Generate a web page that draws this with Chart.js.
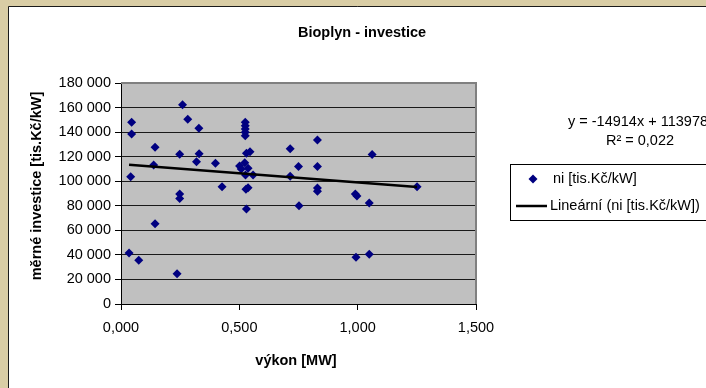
<!DOCTYPE html>
<html>
<head>
<meta charset="utf-8">
<title>Bioplyn - investice</title>
<script src="https://cdn.jsdelivr.net/npm/chart.js@4/dist/chart.umd.min.js"></script>
<style>
    html, body { margin: 0; padding: 0; background: #d9cda5; }
    canvas { display: block; }
</style>
</head>
<body>
<canvas id="bioplyn-chart" width="706" height="388"></canvas>
<script>
// Data: power [MW] and specific investment [tis.Kč/kW]
const powerMW = [
    0.034, 0.041, 0.045, 0.045, 0.075, 0.138, 0.144, 0.144, 0.237, 0.248,
    0.248, 0.248, 0.260, 0.282, 0.319, 0.329, 0.330, 0.399, 0.427, 0.501,
    0.508, 0.523, 0.537, 0.526, 0.558, 0.525, 0.525, 0.525, 0.525, 0.525,
    0.530, 0.545, 0.528, 0.537, 0.530, 0.715, 0.715, 0.750, 0.752, 0.830,
    0.830, 0.830, 0.830, 0.990, 0.997, 0.993, 1.049, 1.049, 1.061, 1.251
];
const investment = [
    41500, 103700, 138500, 148000, 35600, 113200, 127600, 65400, 24700, 89500,
    86000, 121900, 162300, 150400, 115900, 143100, 122400, 114600, 95400, 112400,
    110000, 115000, 110500, 105100, 105100, 148000, 145200, 142500, 139800, 137100,
    122700, 124000, 93400, 94700, 77400, 126500, 104000, 112000, 80000, 133600,
    112000, 94500, 91800, 89500, 88000, 38000, 82200, 40600, 121700, 95400
];

// Linear trend end points (y = -14914x + 113978)
const trendX = [0.034, 1.251];
const trendY = [113471, 95321];

const chartTitle = 'Bioplyn - investice';
const xTitle = 'výkon [MW]';
const yTitle = 'měrné investice [tis.Kč/kW]';
const seriesLabel = 'ni [tis.Kč/kW]';
const trendLabel = 'Lineární (ni [tis.Kč/kW])';
const trendEquation = 'y = -14914x + 113978';
const trendR2 = 'R² = 0,022';

const FONT = '"Liberation Sans", Arial, sans-serif';
const NAVY = '#000080';

function formatThousands(v) {
    return String(v).replace(/\B(?=(\d{3})+(?!\d))/g, ' ');
}

// Frame, plot background, titles and the legend box
const decorPlugin = {
    id: 'decor',
    beforeDraw(chart) {
        const ctx = chart.ctx;
        const a = chart.chartArea;
        ctx.save();
        ctx.fillStyle = '#d9cda5';
        ctx.fillRect(0, 0, chart.width, chart.height);
        ctx.fillStyle = '#ffffff';
        ctx.fillRect(9, 7, chart.width, chart.height);
        ctx.strokeStyle = '#1a1a1a';
        ctx.lineWidth = 1;
        ctx.beginPath();
        ctx.moveTo(8.5, chart.height);
        ctx.lineTo(8.5, 6.5);
        ctx.lineTo(chart.width, 6.5);
        ctx.stroke();
        ctx.fillStyle = '#c0c0c0';
        ctx.fillRect(a.left, a.top, a.right - a.left, a.bottom - a.top);
        ctx.restore();
    },
    afterDraw(chart) {
        const ctx = chart.ctx;
        const a = chart.chartArea;
        ctx.save();
        // plot border top / right
        ctx.strokeStyle = '#808080';
        ctx.lineWidth = 2;
        ctx.beginPath();
        ctx.moveTo(a.left, a.top);
        ctx.lineTo(a.right, a.top);
        ctx.lineTo(a.right, a.bottom);
        ctx.stroke();

        ctx.fillStyle = '#000';
        ctx.textBaseline = 'middle';
        ctx.textAlign = 'center';
        ctx.font = 'bold 14.5px ' + FONT;
        ctx.fillText(chartTitle, 362, 33);
        ctx.fillText(xTitle, 296, 361);
        ctx.save();
        ctx.translate(37, 186);
        ctx.rotate(-Math.PI / 2);
        ctx.fillText(yTitle, 0, 0);
        ctx.restore();

        // trend equation
        ctx.font = '14.5px ' + FONT;
        ctx.textAlign = 'left';
        ctx.fillText(trendEquation, 568, 122);
        ctx.textAlign = 'center';
        ctx.fillText(trendR2, 640, 141);

        // legend
        ctx.fillStyle = '#fff';
        ctx.fillRect(511, 164, 220, 56);
        ctx.strokeStyle = '#000';
        ctx.lineWidth = 1;
        ctx.strokeRect(510.5, 164.5, 220, 56);
        ctx.fillStyle = NAVY;
        ctx.beginPath();
        ctx.moveTo(533, 174.5);
        ctx.lineTo(537.5, 179);
        ctx.lineTo(533, 183.5);
        ctx.lineTo(528.5, 179);
        ctx.closePath();
        ctx.fill();
        ctx.strokeStyle = '#000';
        ctx.lineWidth = 2.5;
        ctx.beginPath();
        ctx.moveTo(516, 206);
        ctx.lineTo(547, 206);
        ctx.stroke();
        ctx.fillStyle = '#000';
        ctx.textAlign = 'left';
        ctx.fillText(seriesLabel, 553, 179);
        ctx.fillText(trendLabel, 550, 206);
        ctx.restore();
    }
};

Chart.defaults.font.family = FONT;
Chart.defaults.font.size = 14.5;
Chart.defaults.color = '#000';

const points = powerMW.map((x, i) => ({ x: x, y: investment[i] }));
const trendPoints = trendX.map((x, i) => ({ x: x, y: trendY[i] }));

const ctx = document.getElementById('bioplyn-chart');
new Chart(ctx, {
    type: 'scatter',
    data: {
        datasets: [{
            label: seriesLabel,
            data: points,
            pointStyle: 'rectRot',
            pointRadius: 4.5,
            backgroundColor: NAVY,
            borderColor: NAVY,
            borderWidth: 0,
            order: 2
        }, {
            label: trendLabel,
            data: trendPoints,
            type: 'line',
            showLine: true,
            borderColor: '#000',
            borderWidth: 2.5,
            pointRadius: 0,
            fill: false,
            order: 1
        }]
    },
    options: {
        responsive: false,
        animation: false,
        devicePixelRatio: 1,
        layout: { padding: { top: 83, right: 230, bottom: 0, left: 0 } },
        plugins: {
            legend: { display: false },
            title: { display: false },
            tooltip: { enabled: false }
        },
        scales: {
            x: {
                type: 'linear',
                min: 0,
                max: 1.5,
                afterFit(scale) { scale.height = 84; },
                ticks: {
                    stepSize: 0.5,
                    padding: 9,
                    maxRotation: 0,
                    callback: v => v.toFixed(3).replace('.', ',')
                },
                grid: {
                    drawOnChartArea: false,
                    tickLength: 6,
                    tickColor: '#000'
                },
                border: { color: '#000', width: 1 }
            },
            y: {
                min: 0,
                max: 180000,
                afterFit(scale) { scale.width = 121; },
                ticks: {
                    stepSize: 20000,
                    padding: 4,
                    callback: v => formatThousands(v)
                },
                grid: {
                    color: '#1a1a1a',
                    lineWidth: 1,
                    tickLength: 6,
                    tickColor: '#000'
                },
                border: { color: '#000', width: 1 }
            }
        }
    },
    plugins: [decorPlugin]
});
</script>
</body>
</html>
